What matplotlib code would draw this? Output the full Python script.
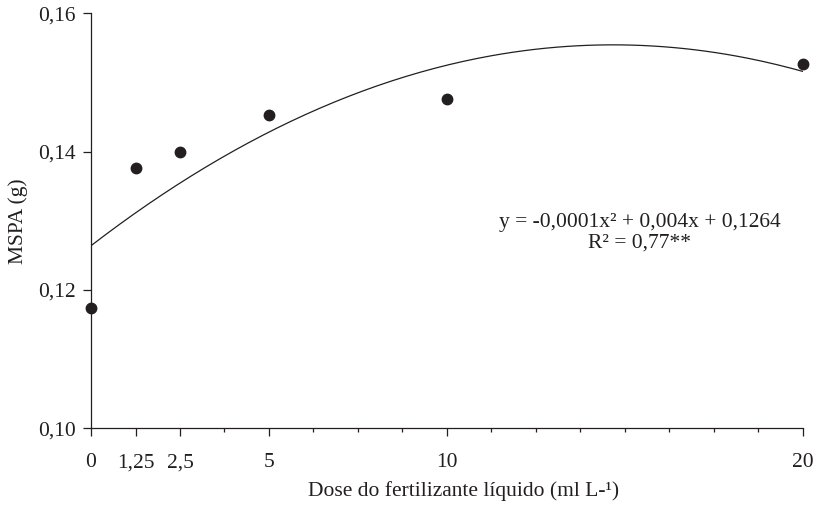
import numpy as np
import matplotlib
matplotlib.use("Agg")
import matplotlib.pyplot as plt
from matplotlib.ticker import MultipleLocator

plt.rcParams['font.family'] = ['Liberation Serif', 'DejaVu Serif']

# dados
dose = [0, 1.25, 2.5, 5, 10, 20]
mspa = [0.1174, 0.1376, 0.1400, 0.1453, 0.1476, 0.1526]
xtick_vals = [0, 1.25, 2.5, 5, 10, 20]
xtick_labels = ['0', '1,25', '2,5', '5', '10', '20']
ytick_vals = [0.10, 0.12, 0.14, 0.16]
ytick_labels = ['0,10', '0,12', '0,14', '0,16']
# coeficientes da regressao (a + b x + c x^2)
coef = [0.1264, 0.00396, -0.000135]

fig = plt.figure(figsize=(8.2, 5.12), dpi=100)
ax = fig.add_axes([0.111, 0.1635, 0.868, 0.8105])

xx = np.linspace(0, 20, 200)
yy = coef[0] + coef[1] * xx + coef[2] * xx ** 2
ax.plot(xx, yy, color='#231f20', lw=0.9)
ax.plot(dose, mspa, 'o', color='#231f20', ms=7.5, clip_on=False, zorder=3)

ax.set_xlim(0, 20)
ax.set_ylim(0.10, 0.16)
ax.set_xticks(xtick_vals)
ax.set_xticklabels(xtick_labels)
ax.xaxis.set_minor_locator(MultipleLocator(1.25))
ax.set_yticks(ytick_vals)
ax.set_yticklabels(ytick_labels)

for s in ['top', 'right']:
    ax.spines[s].set_visible(False)
for s in ['left', 'bottom']:
    ax.spines[s].set_color('#231f20')
    ax.spines[s].set_linewidth(0.9)

ax.tick_params(axis='x', which='major', length=6, width=0.9, color='#231f20',
               labelsize=15.5, pad=12, labelcolor='#231f20')
ax.tick_params(axis='x', which='minor', length=3, width=0.9, color='#231f20')
ax.tick_params(axis='y', which='major', length=6, width=0.9, color='#231f20',
               labelsize=15.5, pad=5, labelcolor='#231f20')

ax.set_xlabel('Dose do fertilizante líquido (ml L-¹)', fontsize=15.5,
              color='#231f20')
ax.xaxis.set_label_coords(0.524, -0.128)
ax.set_ylabel('MSPA (g)', fontsize=15.5, color='#231f20', labelpad=7)

ax.text(0.771, 0.497, 'y = -0,0001x² + 0,004x + 0,1264', transform=ax.transAxes,
        ha='center', va='center', fontsize=15.5, color='#231f20')
ax.text(0.771, 0.447, 'R² = 0,77**', transform=ax.transAxes,
        ha='center', va='center', fontsize=15.5, color='#231f20')

fig.savefig('out.png', dpi=100, facecolor='white')
plt.close(fig)
